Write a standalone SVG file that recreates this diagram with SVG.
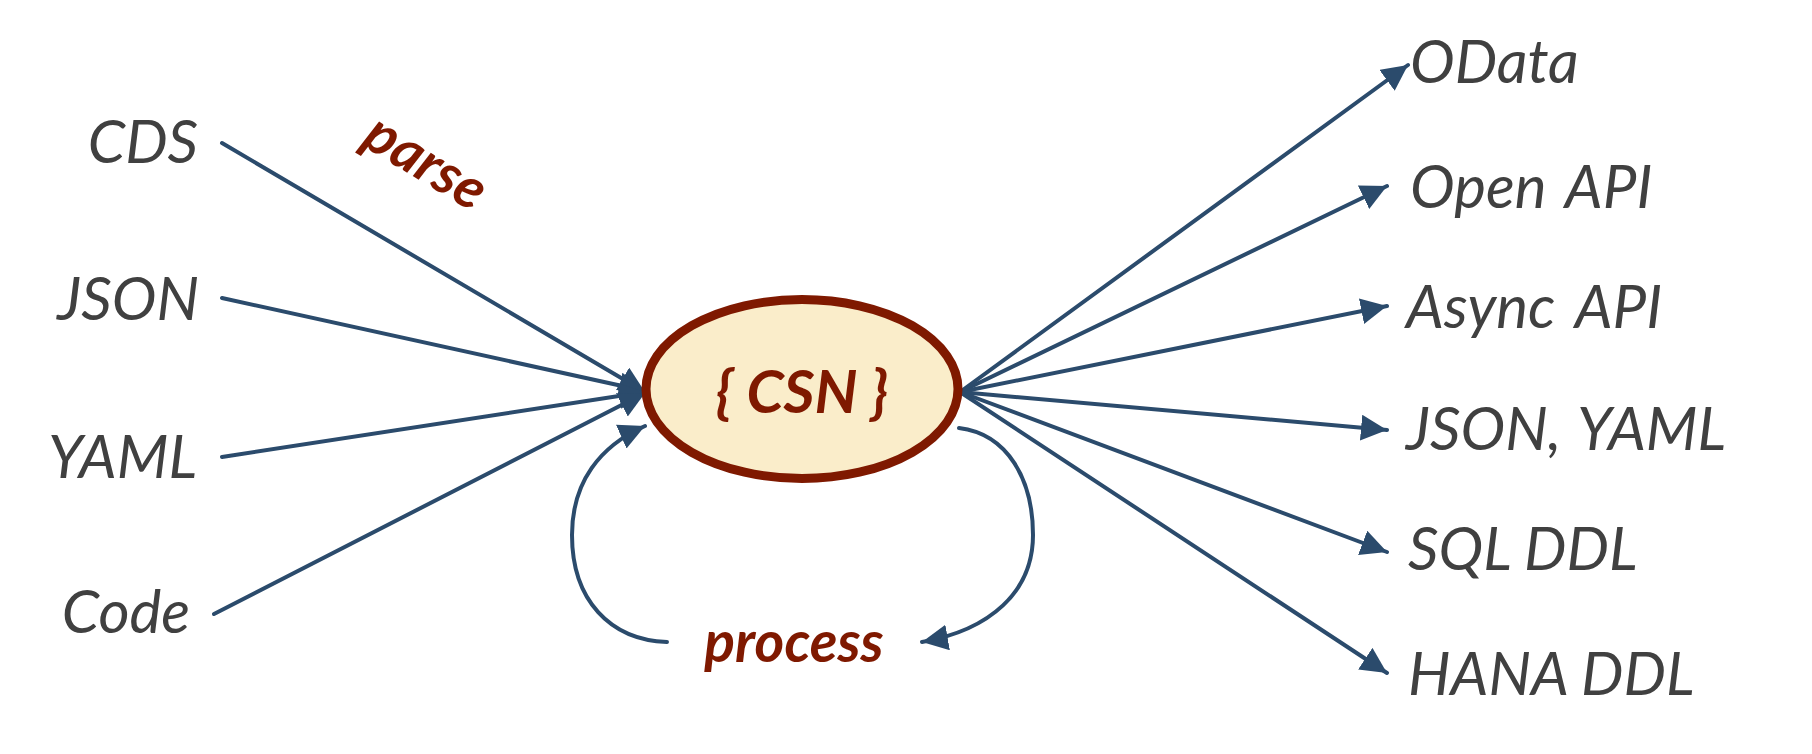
<svg xmlns="http://www.w3.org/2000/svg" width="1812" height="754" viewBox="0 0 1812 754">
<style>
.lbl{font-family:Lato,"Open Sans","Liberation Sans",sans-serif;font-style:italic;font-size:60px;fill:#404040}
.red{font-family:Lato,"Open Sans","Liberation Sans",sans-serif;font-style:italic;font-weight:bold;fill:#7F1900}
.edge{fill:none;stroke:#2B4B6C;stroke-width:4;stroke-linecap:round}
</style>
<defs>
<marker id="ah" markerUnits="userSpaceOnUse" markerWidth="30" markerHeight="28" refX="26" refY="13" orient="auto">
<path d="M0,0 L26,13 L0,26 Z" fill="#2B4B6C"/>
</marker>
</defs>
<rect width="1812" height="754" fill="#FFFFFF"/>
<g id="connectors">
<path class="edge" d="M222,143 L645,392" marker-end="url(#ah)"/>
<path class="edge" d="M222,298 L645,391" marker-end="url(#ah)"/>
<path class="edge" d="M222,457 L645,392" marker-end="url(#ah)"/>
<path class="edge" d="M214,614 L645,393" marker-end="url(#ah)"/>
<path class="edge" d="M960,392 L1408,65" marker-end="url(#ah)"/>
<path class="edge" d="M960,392 L1387,186" marker-end="url(#ah)"/>
<path class="edge" d="M960,392 L1387,306" marker-end="url(#ah)"/>
<path class="edge" d="M960,392 L1387,430" marker-end="url(#ah)"/>
<path class="edge" d="M960,392 L1387,552" marker-end="url(#ah)"/>
<path class="edge" d="M960,392 L1387,673" marker-end="url(#ah)"/>
<path class="edge" d="M667,642 C610,640 572,600 572,535 C572,482 600,446 645,426" marker-end="url(#ah)"/>
<path class="edge" d="M959,428 C1008,434 1033,480 1033,535 C1033,592 990,630 922,642" marker-end="url(#ah)"/>
</g>
<g id="csn">
<ellipse cx="802" cy="389" rx="156" ry="89.5" fill="#FAEDCA" stroke="#7F1900" stroke-width="9"/>
<text class="red" x="802" y="413" font-size="60" text-anchor="middle">{ CSN }</text>
</g>
<g id="src-cds"><text class="lbl" x="198" y="163" text-anchor="end">CDS</text></g>
<g id="src-json"><text class="lbl" x="199" y="320" text-anchor="end">JSON</text></g>
<g id="src-yaml"><text class="lbl" x="197" y="478" text-anchor="end">YAML</text></g>
<g id="src-code"><text class="lbl" x="190" y="633" text-anchor="end">Code</text></g>
<g id="lbl-parse"><text class="red" font-size="57" text-anchor="middle" transform="translate(423,167) rotate(31)" y="13">parse</text></g>
<g id="lbl-process"><text class="red" font-size="57" x="794" y="662" text-anchor="middle">process</text></g>
<g id="out-odata"><text class="lbl" x="1410" y="83">OData</text></g>
<g id="out-openapi"><text class="lbl" x="1410" y="208" word-spacing="6">Open API</text></g>
<g id="out-asyncapi"><text class="lbl" x="1406" y="328" word-spacing="7">Async API</text></g>
<g id="out-jsonyaml"><text class="lbl" x="1406" y="450" word-spacing="4">JSON, YAML</text></g>
<g id="out-sqlddl"><text class="lbl" x="1408" y="570">SQL DDL</text></g>
<g id="out-hanaddl"><text class="lbl" x="1408" y="695">HANA DDL</text></g>
</svg>
